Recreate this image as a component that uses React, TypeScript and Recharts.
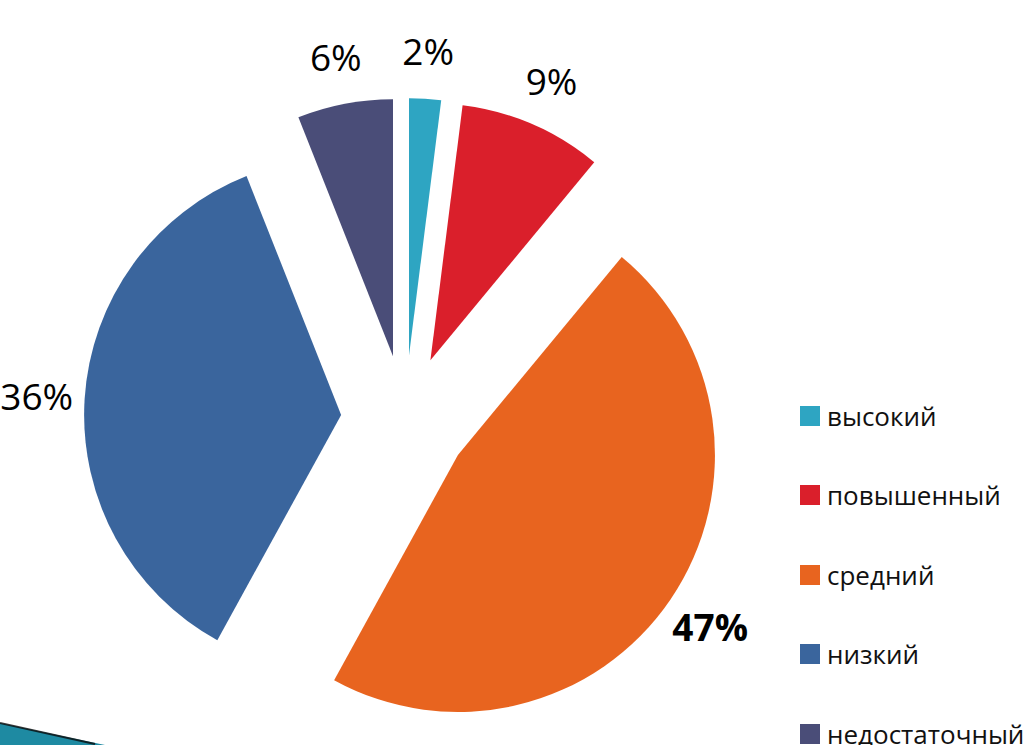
import React from 'react';
import { PieChart, Pie, Cell, Legend, Sector } from 'recharts';

const categories = ['высокий', 'повышенный', 'средний', 'низкий', 'недостаточный'];
const values = [2, 9, 47, 36, 6];
const labels = ['2%', '9%', '47%', '36%', '6%'];
const colors = ['#2EA5C2', '#DA1F2B', '#E8641F', '#3A659D', '#4A4D78'];
const labelWeights = [500, 500, 700, 400, 500];

const data = categories.map((name, i) => ({ name, value: values[i] }));

const RAD = Math.PI / 180;
const EXPLODE = 64;

const ExplodedSector = (props: any) => {
  const { cx, cy, midAngle, innerRadius, outerRadius, startAngle, endAngle, fill } = props;
  const dx = EXPLODE * Math.cos(-midAngle * RAD);
  const dy = EXPLODE * Math.sin(-midAngle * RAD);
  return (
    <Sector
      cx={cx + dx}
      cy={cy + dy}
      innerRadius={innerRadius}
      outerRadius={outerRadius}
      startAngle={startAngle}
      endAngle={endAngle}
      fill={fill}
      stroke="none"
    />
  );
};

const renderLabel = (props: any) => {
  const { cx, cy, midAngle, outerRadius, index } = props;
  const r = outerRadius + EXPLODE + 48;
  const x = cx + r * Math.cos(-midAngle * RAD);
  const y = cy + r * Math.sin(-midAngle * RAD);
  return (
    <text
      x={x}
      y={y}
      textAnchor="middle"
      dominantBaseline="central"
      fill="#000"
      fontSize={37}
      fontWeight={labelWeights[index]}
      fontFamily="'Open Sans', sans-serif"
    >
      {labels[index]}
    </text>
  );
};

const renderLegend = () => (
  <div style={{ fontFamily: "'Open Sans', sans-serif", fontSize: 26, color: '#111' }}>
    {categories.map((name, i) => (
      <div key={name} style={{ display: 'flex', alignItems: 'center', height: 79.5, whiteSpace: 'nowrap' }}>
        <span style={{ display: 'inline-block', width: 20, height: 20, background: colors[i], marginRight: 7, flexShrink: 0 }} />
        <span>{name}</span>
      </div>
    ))}
  </div>
);

export default function App() {
  return (
    <div style={{ position: 'fixed', left: 0, top: 0, width: 1033, height: 745, overflow: 'hidden', background: '#fff' }}>
      <PieChart width={1033} height={745} margin={{ top: 0, right: 0, bottom: 0, left: 0 }}>
        <Pie
          data={data}
          dataKey="value"
          nameKey="name"
          cx={405}
          cy={419}
          outerRadius={257}
          startAngle={90}
          endAngle={-270}
          stroke="none"
          isAnimationActive={false}
          labelLine={false}
          label={renderLabel}
          shape={ExplodedSector}
          activeShape={ExplodedSector}
        >
          {data.map((d, i) => (
            <Cell key={d.name} fill={colors[i]} />
          ))}
        </Pie>
        <Legend
          layout="vertical"
          align="right"
          verticalAlign="top"
          content={renderLegend}
          wrapperStyle={{ position: 'absolute', left: 800, top: 376, width: 233 }}
        />
      </PieChart>
      <svg width={120} height={30} style={{ position: 'absolute', left: 0, top: 715 }}>
        <polygon points="0,8 105,30 0,30" fill="#1E8AA2" />
        <line x1={0} y1={8} x2={95} y2={29} stroke="#0a0a0a" strokeWidth={2} opacity={0.8} />
      </svg>
    </div>
  );
}
